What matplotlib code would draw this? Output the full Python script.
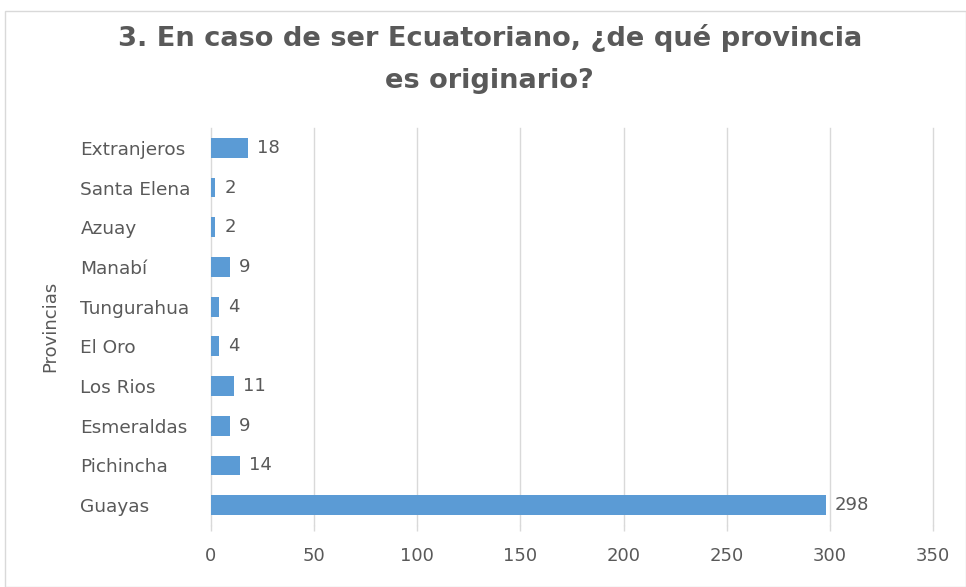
import matplotlib
matplotlib.use("Agg")
import matplotlib.pyplot as plt
from matplotlib.patches import Rectangle

provincias = ["Guayas", "Pichincha", "Esmeraldas", "Los Rios", "El Oro",
              "Tungurahua", "Manabí", "Azuay", "Santa Elena", "Extranjeros"]
cantidades = [298, 14, 9, 11, 4, 4, 9, 2, 2, 18]
x_ticks = [0, 50, 100, 150, 200, 250, 300, 350]

TEXT = "#595959"
BAR = "#5B9BD5"
GRID = "#D9D9D9"

plt.rcParams["font.family"] = ["DejaVu Sans"]

fig = plt.figure(figsize=(9.66, 5.87), dpi=100)
ax = fig.add_axes([211 / 966, 1 - 525 / 587, (933 - 211) / 966, (525 - 128) / 587])

pos = list(range(len(provincias)))
ax.barh(pos, cantidades, height=0.5, color=BAR, zorder=3)
for p, v in zip(pos, cantidades):
    ax.text(v + 4.5, p, str(v), va="center", ha="left", fontsize=13, color=TEXT)

ax.set_xlim(0, 350)
ax.set_ylim(-0.5, len(provincias) - 0.5)
ax.set_xticks(x_ticks)
ax.set_yticks(pos)
ax.set_yticklabels(provincias, ha="left")
ax.tick_params(axis="y", length=0, pad=94, labelsize=13.3, labelcolor=TEXT)
ax.tick_params(axis="x", length=4, width=1, color=GRID, direction="out", pad=12,
               labelsize=13, labelcolor=TEXT)

ax.grid(True, axis="x", color=GRID, linewidth=1, zorder=0)
for g in ax.get_xgridlines():
    g.set_clip_on(False)
for s in ax.spines.values():
    s.set_visible(False)

ax.set_ylabel("Provincias", fontsize=13, color=TEXT)
ax.yaxis.set_label_coords(-152 / 722, 0.5)

fig.text(0.507, 1 - 59 / 587, "3. En caso de ser Ecuatoriano, ¿de qué provincia\nes originario?",
         ha="center", va="center", fontsize=19.6, fontweight="bold", color=TEXT,
         linespacing=1.75, family=["DejaVu Sans Condensed", "DejaVu Sans"])

fig.patches.append(Rectangle((5 / 966, 0), 1 - 5 / 966, 1 - 11 / 587, transform=fig.transFigure,
                             fill=False, edgecolor=GRID, linewidth=1))

fig.savefig("out.png", dpi=100)
